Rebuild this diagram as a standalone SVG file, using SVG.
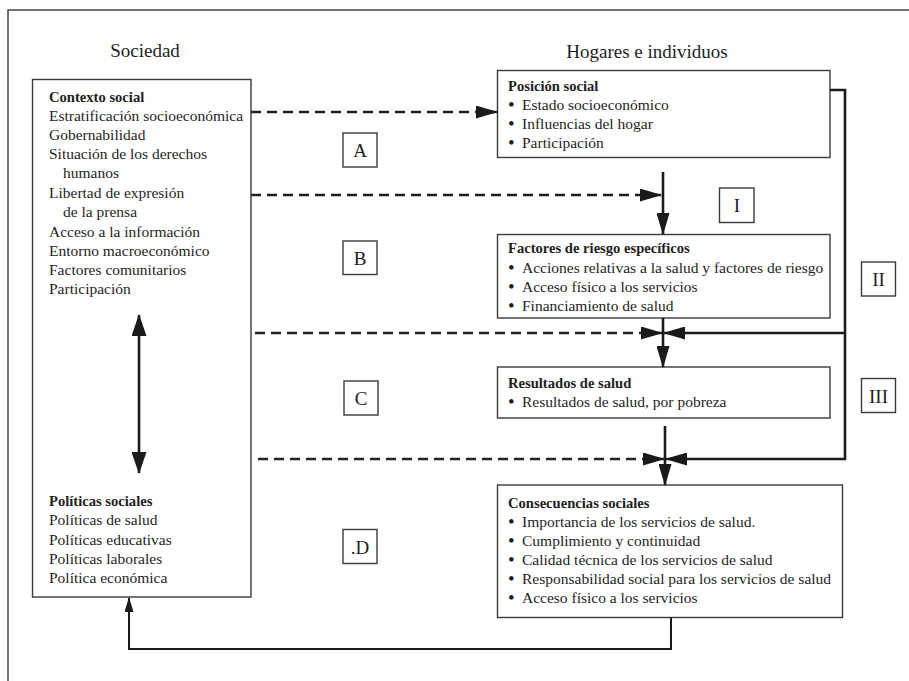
<svg xmlns="http://www.w3.org/2000/svg" width="909" height="681" viewBox="0 0 909 681">
<defs>
<style>
text{font-family:"Liberation Serif","Times New Roman",serif;fill:#1e1e1e}
.t{font-size:15.5px}
.h{font-size:14.6px;font-weight:bold}
.b{font-size:19px}
.title{font-size:19px;text-anchor:middle}
.lbl{font-size:19px;text-anchor:middle}
.box{fill:#fff;stroke:#3a3a3a;stroke-width:1.4}
.frame{fill:none;stroke:#444;stroke-width:1.5}
.dash{fill:none;stroke:#222;stroke-width:2.3;stroke-dasharray:10 6}
.sol{fill:none;stroke:#1a1a1a;stroke-width:2.6}
.thin{fill:none;stroke:#1a1a1a;stroke-width:2}
</style>
<marker id="ah" markerUnits="userSpaceOnUse" markerWidth="22" markerHeight="13" refX="21" refY="6.5" orient="auto"><path d="M0,0 L22,6.5 L0,13 z" fill="#1a1a1a"/></marker>
<marker id="ah2" markerUnits="userSpaceOnUse" markerWidth="22" markerHeight="15" refX="21" refY="7.5" orient="auto-start-reverse"><path d="M0,0 L22,7.5 L0,15 z" fill="#1a1a1a"/></marker>
<marker id="ahs" markerUnits="userSpaceOnUse" markerWidth="15" markerHeight="9" refX="14" refY="4.5" orient="auto"><path d="M0,0 L15,4.5 L0,9 z" fill="#1a1a1a"/></marker>
</defs>
<rect width="909" height="681" fill="#fff"/>
<path class="frame" d="M8,681 V10 H909"/>

<text class="title" x="145" y="57">Sociedad</text>
<text class="title" x="647" y="58">Hogares e individuos</text>

<g id="sociedad">
<rect class="box" x="32.5" y="79.5" width="218.5" height="517.5"/>
<text class="h" x="49" y="102">Contexto social</text>
<text class="t" x="49" y="121">Estratificación socioeconómica</text>
<text class="t" x="49" y="140">Gobernabilidad</text>
<text class="t" x="49" y="159">Situación de los derechos</text>
<text class="t" x="63" y="178">humanos</text>
<text class="t" x="49" y="198">Libertad de expresión</text>
<text class="t" x="63" y="217">de la prensa</text>
<text class="t" x="49" y="237">Acceso a la información</text>
<text class="t" x="49" y="256">Entorno macroeconómico</text>
<text class="t" x="49" y="275">Factores comunitarios</text>
<text class="t" x="49" y="294">Participación</text>
<text class="h" x="49" y="506">Políticas sociales</text>
<text class="t" x="49" y="525">Políticas de salud</text>
<text class="t" x="49" y="545">Políticas educativas</text>
<text class="t" x="49" y="564">Políticas laborales</text>
<text class="t" x="49" y="583">Política económica</text>
</g>

<g id="posicion">
<rect class="box" x="497.5" y="70.5" width="332.5" height="87"/>
<text class="h" x="508" y="91">Posición social</text>
<text class="t" x="508" y="111"><tspan class="b">•</tspan><tspan x="522" y="110">Estado socioeconómico</tspan></text>
<text class="t" x="508" y="130"><tspan class="b">•</tspan><tspan x="522" y="129">Influencias del hogar</tspan></text>
<text class="t" x="508" y="149"><tspan class="b">•</tspan><tspan x="522" y="148">Participación</tspan></text>
</g>

<g id="factores">
<rect class="box" x="497.5" y="234.5" width="332.5" height="83.5"/>
<text class="h" x="508" y="253">Factores de riesgo específicos</text>
<text class="t" x="508" y="274"><tspan class="b">•</tspan><tspan x="522" y="273">Acciones relativas a la salud y factores de riesgo</tspan></text>
<text class="t" x="508" y="293"><tspan class="b">•</tspan><tspan x="522" y="292">Acceso físico a los servicios</tspan></text>
<text class="t" x="508" y="312"><tspan class="b">•</tspan><tspan x="522" y="311">Financiamiento de salud</tspan></text>
</g>

<g id="resultados">
<rect class="box" x="497.5" y="367" width="332.5" height="51"/>
<text class="h" x="508" y="388">Resultados de salud</text>
<text class="t" x="508" y="408"><tspan class="b">•</tspan><tspan x="522" y="407">Resultados de salud, por pobreza</tspan></text>
</g>

<g id="consecuencias">
<rect class="box" x="497.5" y="485" width="345" height="132.5"/>
<text class="h" x="508" y="508">Consecuencias sociales</text>
<text class="t" x="508" y="528"><tspan class="b">•</tspan><tspan x="522" y="527">Importancia de los servicios de salud.</tspan></text>
<text class="t" x="508" y="547"><tspan class="b">•</tspan><tspan x="522" y="546">Cumplimiento y continuidad</tspan></text>
<text class="t" x="508" y="566"><tspan class="b">•</tspan><tspan x="522" y="565">Calidad técnica de los servicios de salud</tspan></text>
<text class="t" x="508" y="585"><tspan class="b">•</tspan><tspan x="522" y="584">Responsabilidad social para los servicios de salud</tspan></text>
<text class="t" x="508" y="604"><tspan class="b">•</tspan><tspan x="522" y="603">Acceso físico a los servicios</tspan></text>
</g>

<g id="label-A"><rect class="box" x="343" y="133" width="34" height="34"/><text class="lbl" x="360" y="157">A</text></g>
<g id="label-B"><rect class="box" x="343" y="241" width="34" height="33.5"/><text class="lbl" x="360" y="264.5">B</text></g>
<g id="label-C"><rect class="box" x="344" y="381" width="34" height="34"/><text class="lbl" x="361" y="405">C</text></g>
<g id="label-D"><rect class="box" x="343" y="529.5" width="34" height="34"/><text class="lbl" x="360" y="553.5">.D</text></g>
<g id="label-I"><rect class="box" x="719.5" y="188" width="34.5" height="34.5"/><text class="lbl" x="737" y="212">I</text></g>
<g id="label-II"><rect class="box" x="861.5" y="262" width="34" height="34"/><text class="lbl" x="878.5" y="286">II</text></g>
<g id="label-III"><rect class="box" x="861.5" y="378.5" width="34" height="34"/><text class="lbl" x="878.5" y="402.5">III</text></g>

<g id="connectors">
<path class="dash" d="M251,112 H497" marker-end="url(#ah)"/>
<path class="dash" d="M251,195 H661" marker-end="url(#ah)"/>
<path class="dash" d="M255,333 H662" marker-end="url(#ah)"/>
<path class="dash" d="M258,459 H664" marker-end="url(#ah)"/>
<path class="sol" d="M663,172 V234" marker-end="url(#ah)"/>
<path class="sol" d="M663,318 V367" marker-end="url(#ah)"/>
<path class="sol" d="M665,426 V485" marker-end="url(#ah)"/>
<path class="sol" d="M830,90 H845 V459 H666" marker-end="url(#ah)"/>
<path class="sol" d="M845,333 H664" marker-end="url(#ah)"/>
<path class="thin" d="M671,617.5 V649 H129 V598" marker-end="url(#ahs)"/>
<path class="sol" d="M139,315 V473" marker-start="url(#ah2)" marker-end="url(#ah2)"/>
</g>
</svg>
